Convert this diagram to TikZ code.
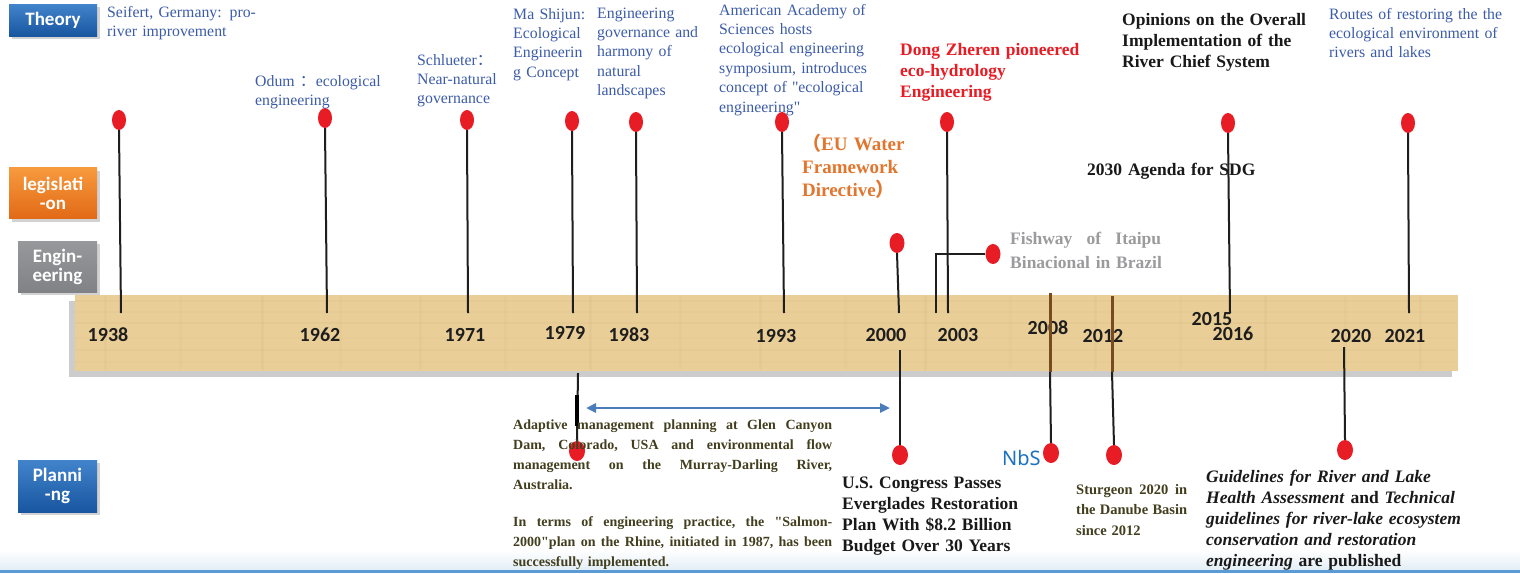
\documentclass[tikz,border=0pt]{standalone}
\usepackage{fontspec}
\setmainfont{Liberation Serif}
\newfontfamily\labfont{Carlito}
\newfontfamily\nbsfont{Noto Sans}
\newfontfamily\cjk{Noto Sans CJK SC}
\usetikzlibrary{shapes.geometric,arrows.meta,shadows}
\definecolor{thblue}{RGB}{60,92,168}
\definecolor{pinred}{RGB}{232,28,36}
\definecolor{legor}{RGB}{226,118,46}
\definecolor{enggray}{RGB}{155,155,158}
\definecolor{olivetxt}{RGB}{66,62,30}
\definecolor{bartan}{RGB}{233,206,152}
\definecolor{arrblue}{RGB}{74,126,187}
\definecolor{nbsblue}{RGB}{27,114,192}
\definecolor{cbtop}{RGB}{66,132,204}
\definecolor{cbbot}{RGB}{24,86,160}
\definecolor{cotop}{RGB}{247,154,62}
\definecolor{cobot}{RGB}{226,106,22}
\definecolor{cgtop}{RGB}{150,152,156}
\definecolor{cgbot}{RGB}{128,130,134}
\definecolor{stemcol}{RGB}{30,30,30}
\definecolor{browncol}{RGB}{120,74,32}
\definecolor{strip}{RGB}{91,155,213}
\definecolor{stripbg}{RGB}{226,237,245}
\definecolor{texture}{RGB}{170,130,70}
% justified line: words separated by \hfill
\newcommand\jline[2]{\leavevmode\hbox to #1{#2}}
\def\f{\hfill}
\tikzset{
  cat/.style={rectangle, inner sep=0, text=white, align=center,
    font=\labfont\bfseries\fontsize{19}{19}\selectfont,
    drop shadow={shadow xshift=3pt, shadow yshift=-3pt, opacity=.35}},
  catblue/.style={cat, top color=cbtop, bottom color=cbbot},
  catorange/.style={cat, top color=cotop, bottom color=cobot},
  catgray/.style={cat, top color=cgtop, bottom color=cgbot},
  redpin/.style={ellipse, fill=pinred, draw=none, minimum width=14pt, minimum height=20pt, inner sep=0},
  stem/.style={line width=2pt, draw=stemcol},
  yr/.style={anchor=base, inner sep=0, font=\labfont\bfseries\fontsize{20}{20}\selectfont, text=stemcol},
  blu/.style={anchor=base west, inner sep=0, text width=260pt, align=left, text=thblue,
    font=\fontsize{15.8}{19.4}\selectfont},
  hd/.style={anchor=base west, inner sep=0, text width=320pt, align=left,
    font=\bfseries\fontsize{17.5}{21}\selectfont},
  para/.style={anchor=base west, inner sep=0, text width=330pt, align=left, text=olivetxt,
    font=\bfseries\fontsize{14}{20.3}\selectfont},
}
\begin{document}
\begin{tikzpicture}[x=1pt,y=-1pt]
\useasboundingbox (0,0) rectangle (1520,573);
\fill[white] (0,0) rectangle (1520,573);
% bottom strip
\fill[top color=white, bottom color=stripbg] (0,550) rectangle (1520,570);
\fill[strip] (0,570) rectangle (1520,573);

% category boxes
\node[catblue, minimum width=88pt, minimum height=32pt] (catT) at (53,20) {Theory};
\node[catorange, minimum width=88pt, minimum height=51pt] (catL) at (53,193) {legislati\\-on};
\node[catgray, minimum width=79pt, minimum height=51pt] (catE) at (57.5,266.5) {Engin-\\eering};
\node[catblue, minimum width=79pt, minimum height=52pt] (catP) at (57.5,486) {Planni\\-ng};

% timeline bar
\node[rectangle, fill=bartan, minimum width=1383pt, minimum height=76pt, inner sep=0,
  drop shadow={shadow xshift=-6pt, shadow yshift=-6pt, opacity=.4}] (bar) at (766.5,333) {};
\foreach \yy/\op in {301/.05,312/.04,323/.06,338/.04,350/.05,362/.04}{
  \draw[texture, opacity=\op, line width=2pt] (75,\yy) -- (1457,\yy);}
\foreach \xx/\op in {105/.05,180/.04,262/.06,340/.04,420/.05,505/.04,590/.06,680/.04,760/.05,845/.04,925/.06,1010/.04,1095/.05,1180/.04,1265/.06,1345/.04,1420/.05}{
  \draw[texture, opacity=\op, line width=3pt] (\xx,296) -- (\xx,370);}

% years
\node[yr] (y1938) at (108,341) {1938};
\node[yr] (y1962) at (320,341) {1962};
\node[yr] (y1971) at (465,341) {1971};
\node[yr] (y1979) at (565,339) {1979};
\node[yr] (y1983) at (629,341) {1983};
\node[yr] (y1993) at (776,342) {1993};
\node[yr] (y2000) at (886,341) {2000};
\node[yr] (y2003) at (958,341) {2003};
\node[yr] (y2008) at (1048,334) {2008};
\node[yr] (y2012) at (1103,342) {2012};
\node[yr] (y2015) at (1212,325) {2015};
\node[yr] (y2016) at (1233,340) {2016};
\node[yr] (y2020) at (1351,342) {2020};
\node[yr] (y2021) at (1405,342) {2021};

% stem end coordinates
\coordinate (e1938) at (121,313);
\coordinate (e1962) at (327,313);
\coordinate (e1971) at (468,313);
\coordinate (e1979) at (573,313);
\coordinate (e1983) at (637,313);
\coordinate (e1993) at (784,313);
\coordinate (e2003) at (948,313);
\coordinate (e2016) at (1230,313);
\coordinate (e2021) at (1409,313);
\coordinate (eE2000) at (899,313);
\coordinate (eIt) at (936,313);
\coordinate (sP1979) at (578,373);
\coordinate (sP2000) at (900,350);
\coordinate (sP2008) at (1050,293);
\coordinate (mP2008) at (1050,372);
\coordinate (sP2012) at (1112,296);
\coordinate (mP2012) at (1112,372);
\coordinate (sP2020) at (1344,347);
\coordinate (k1) at (577,395);
\coordinate (k2) at (577,426);

% pins
\node[redpin] (T1938) at (119,120) {};
\node[redpin] (T1962) at (325,118) {};
\node[redpin] (T1971) at (467,120) {};
\node[redpin] (T1979) at (572,121) {};
\node[redpin] (T1983) at (636,122) {};
\node[redpin] (T1993) at (782,122) {};
\node[redpin] (T2003) at (947,122) {};
\node[redpin] (T2016) at (1228,123) {};
\node[redpin] (T2021) at (1408,123) {};
\node[redpin, minimum width=15pt] (E2000) at (897,243) {};
\node[redpin, minimum width=15pt] (Eit) at (993,254) {};
\node[redpin, minimum width=16pt] (P1979) at (577,451) {};
\node[redpin, minimum width=16pt] (P2000) at (900,455) {};
\node[redpin, minimum width=16pt] (P2008) at (1051,453) {};
\node[redpin, minimum width=16pt] (P2012) at (1114,455) {};
\node[redpin, minimum width=16pt] (P2020) at (1345,450) {};

% stems
\foreach \n in {1938,1962,1971,1979,1983,1993,2003,2016,2021}{
  \draw[stem] (T\n.south) -- (e\n);}
\draw[stem] (E2000.south) -- (eE2000);
\draw[stem, line width=1.6pt] (Eit.west) -| (eIt);
\draw[stem] (sP1979) -- (P1979.north);
\draw[line width=4pt, draw=black] (k1) -- (k2);
\draw[stem] (sP2000) -- (P2000.north);
\draw[line width=3pt, draw=browncol] (sP2008) -- (mP2008);
\draw[stem] (mP2008) -- (P2008.north);
\draw[line width=3pt, draw=browncol] (sP2012) -- (mP2012);
\draw[stem] (mP2012) -- (P2012.north);
\draw[stem] (sP2020) -- (P2020.north);

% blue double arrow
\coordinate (a1) at (586,408);
\coordinate (a2) at (890,408);
\draw[arrblue, line width=2.5pt, {Triangle[length=10pt,width=9pt]}-{Triangle[length=10pt,width=9pt]}] (a1) -- (a2);

% theory texts
\node[blu] (tSeifert) at (107,17.3) {Seifert, Germany: pro-\\river improvement};
\node[blu] (tOdum) at (255,86) {Odum {\cjk ：}ecological\\engineering};
\node[blu] (tSchl) at (417,65) {Schlueter{\cjk ：}\\Near-natural\\governance};
\node[blu] (tMa) at (513,19) {Ma Shijun:\\Ecological\\Engineerin\\g Concept};
\node[blu] (tEng) at (597,18) {Engineering\\governance and\\harmony of\\natural\\landscapes};
\node[blu] (tAm) at (719,15) {American Academy of\\Sciences hosts\\ecological engineering\\symposium, introduces\\concept of \textquotedbl ecological\\engineering\textquotedbl};
\node[hd, text=pinred] (tDong) at (900,55) {Dong Zheren pioneered\\eco-hydrology\\Engineering};
\node[hd, text=black!90] (tOp) at (1122,25) {Opinions on the Overall\\Implementation of the\\River Chief System};
\node[blu, font=\fontsize{15.8}{19}\selectfont] (tRoutes) at (1329,19) {Routes of restoring the the\\ecological environment of\\rivers and lakes};

% legislation texts
\node[hd, text=legor, font=\bfseries\fontsize{19}{23}\selectfont] (tEU) at (802,150) {{\cjk （}EU Water\\Framework\\Directive{\cjk ）}};
\node[hd, text=black!90] (tSDG) at (1087,175) {2030 Agenda for SDG};

% engineering text
\node[hd, text=enggray, font=\bfseries\fontsize{17.5}{24}\selectfont] (tFish) at (1010,244) {\jline{151pt}{Fishway\f of\f Itaipu}\\Binacional in Brazil};

% planning texts
\node[para] (tAdapt) at (513,429) {\jline{319pt}{Adaptive\f management\f planning\f at\f Glen\f Canyon}\\
\jline{319pt}{Dam,\f Colorado,\f USA\f and\f environmental\f flow}\\
\jline{319pt}{management\f on\f the\f Murray-Darling\f River,}\\
Australia.\\[16pt]
\jline{319pt}{In\f terms\f of\f engineering\f practice,\f the\f \textquotedbl Salmon-}\\
\jline{319pt}{2000\textquotedbl plan\f on\f the\f Rhine,\f initiated\f in\f 1987,\f has\f been}\\
successfully implemented.};
\node[hd, text=black!90] (tUS) at (842,488) {U.S. Congress Passes\\Everglades Restoration\\Plan With \$8.2 Billion\\Budget Over 30 Years};
\node[anchor=base west, inner sep=0, text=nbsblue, font=\nbsfont\fontsize{20}{20}\selectfont] (tNbS) at (1002,465) {NbS};
\node[para, text width=140pt, font=\bfseries\fontsize{14.5}{20.5}\selectfont] (tStur) at (1076,494) {\jline{111pt}{Sturgeon\f 2020\f in}\\\jline{111pt}{the\f Danube\f Basin}\\since 2012};
\node[hd, text=black!90, font=\bfseries\fontsize{17.5}{21.2}\selectfont] (tGuide) at (1206,482) {\textit{Guidelines for River and Lake}\\\textit{Health Assessment} and \textit{Technical}\\\textit{guidelines for river-lake ecosystem}\\\textit{conservation and restoration}\\\textit{engineering} are published};
\end{tikzpicture}
\end{document}
